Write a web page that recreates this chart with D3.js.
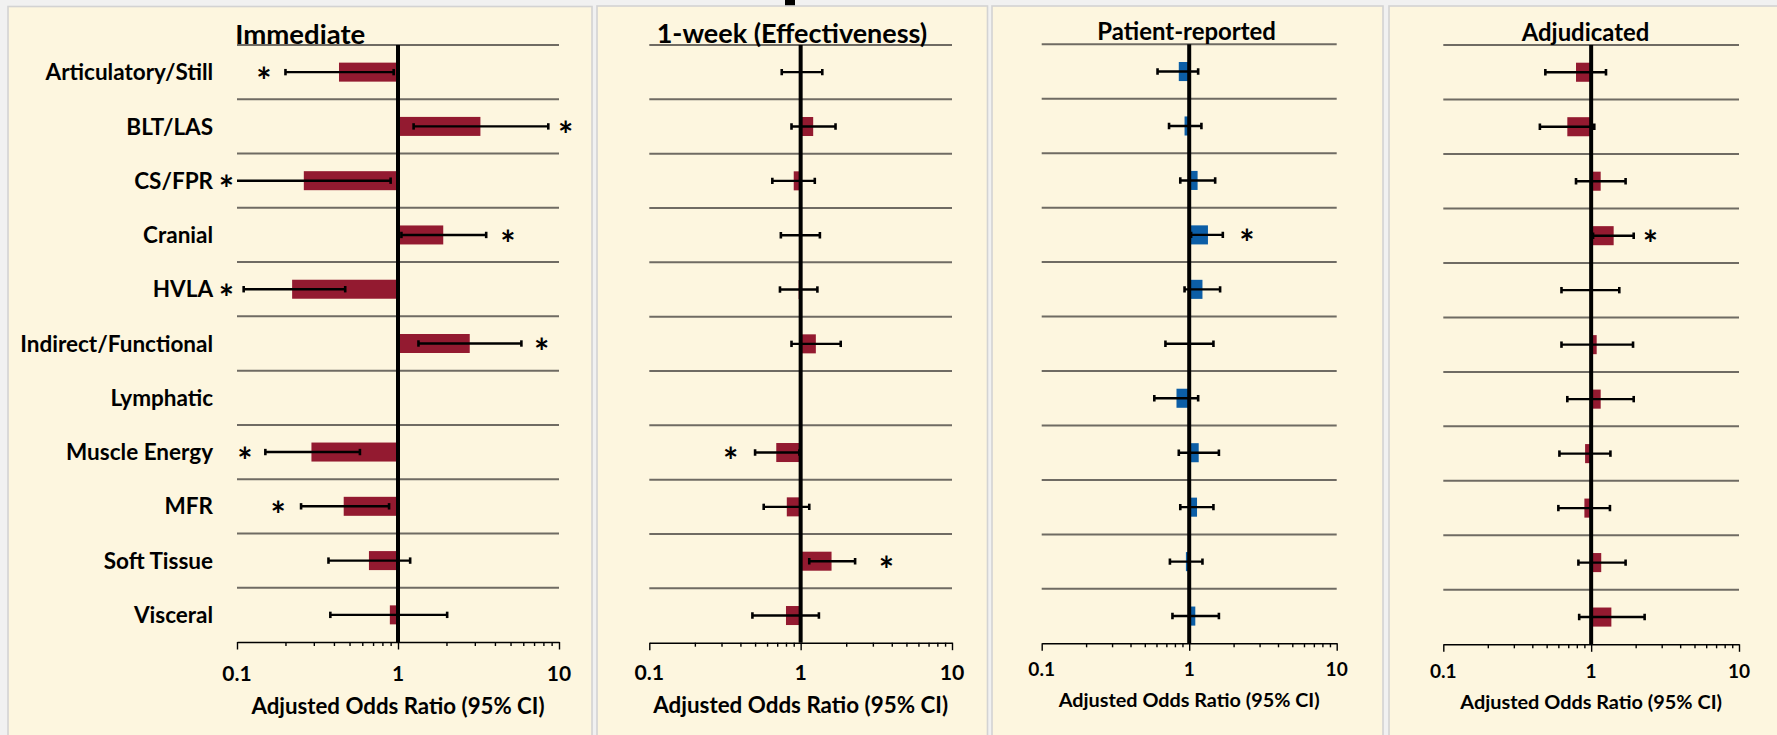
<!DOCTYPE html>
<html>
<head>
<meta charset="utf-8">
<script src="https://cdn.jsdelivr.net/npm/d3@7"></script>
<style>
  html, body { margin: 0; padding: 0; background: #f1f1f1; }
  svg { display: block; }
  text { font-family: Lato, "Open Sans", sans-serif; font-weight: 700; fill: #000; }
</style>
</head>
<body>
<svg id="chart" width="1777" height="735"></svg>
<script>
// ---- Data ---------------------------------------------------------------
const categories = [
  "Articulatory/Still", "BLT/LAS", "CS/FPR", "Cranial", "HVLA",
  "Indirect/Functional", "Lymphatic", "Muscle Energy", "MFR",
  "Soft Tissue", "Visceral"
];

// Immediate outcome: adjusted odds ratio with 95% CI (null = not estimated)
const immediateOR = [0.43, 3.25, 0.26, 1.91, 0.22, 2.79, null, 0.29, 0.46, 0.66, 0.89];
const immediateLo = [0.20, 1.25, 0.08, 1.05, 0.11, 1.34, null, 0.15, 0.25, 0.37, 0.38];
const immediateHi = [0.94, 8.58, 0.90, 3.53, 0.47, 5.84, null, 0.58, 0.88, 1.19, 2.02];
const immediateSig = [0.147, 11.0, 0.086, 4.82, 0.086, 7.79, null, 0.112, 0.18, null, null];

// 1-week effectiveness
const weekOR = [1.02, 1.21, 0.90, 1.00, 0.97, 1.26, null, 0.69, 0.81, 1.60, 0.80];
const weekLo = [0.75, 0.87, 0.65, 0.74, 0.73, 0.87, null, 0.50, 0.57, 1.14, 0.48];
const weekHi = [1.39, 1.70, 1.24, 1.34, 1.29, 1.84, null, 0.98, 1.14, 2.29, 1.32];
const weekSig = [null, null, null, null, null, null, null, 0.345, null, 3.68, null];

// Patient-reported adverse events
const patientOR = [0.85, 0.93, 1.14, 1.34, 1.23, 1.00, 0.82, 1.16, 1.13, 0.95, 1.10];
const patientLo = [0.61, 0.73, 0.87, 1.03, 0.93, 0.69, 0.58, 0.85, 0.87, 0.74, 0.77];
const patientHi = [1.15, 1.21, 1.50, 1.69, 1.62, 1.46, 1.15, 1.59, 1.46, 1.23, 1.59];
const patientSig = [null, null, null, 2.46, null, null, null, null, null, null, null];

// Adjudicated adverse events
const adjudicatedOR = [0.79, 0.69, 1.16, 1.42, 0.99, 1.09, 1.16, 0.91, 0.90, 1.17, 1.37];
const adjudicatedLo = [0.49, 0.45, 0.79, 1.03, 0.63, 0.63, 0.69, 0.61, 0.60, 0.82, 0.83];
const adjudicatedHi = [1.26, 1.05, 1.71, 1.94, 1.55, 1.92, 1.94, 1.35, 1.34, 1.71, 2.30];
const adjudicatedSig = [null, null, null, 2.52, null, null, null, null, null, null, null];

const panelTitles = ["Immediate", "1-week (Effectiveness)", "Patient-reported", "Adjudicated"];
const tickValues = [0.1, 1, 10];
const tickLabels = ["0.1", "1", "10"];
const axisTitle = "Adjusted Odds Ratio (95% CI)";

// ---- Styling / layout ---------------------------------------------------
const RED = "#931a30";
const BLUE = "#0c5ea6";
const PANEL_FILL = "#fdf6df";
const PANEL_STROKE = "#d3d3d3";
const GRID = "#6f6b63";

const panels = [
  { title: panelTitles[0], or: immediateOR, lo: immediateLo, hi: immediateHi, sig: immediateSig,
    color: RED, labels: true,
    frame: [8, 6.5, 592, 740], x0: 237, x1: 559, y0: 45, y1: 642,
    titleX: 235.3, titleW: 130.1, titleBase: 43.5,
    tickBase: 681, tickW: 29.3, axisBase: 714.3, axisW: 293.4 },
  { title: panelTitles[1], or: weekOR, lo: weekLo, hi: weekHi, sig: weekSig,
    color: RED, labels: false,
    frame: [597, 6, 987.5, 740], x0: 649.3, x1: 952, y0: 45, y1: 642.7,
    titleX: 656.7, titleW: 270.7, titleBase: 42.7,
    tickBase: 680, tickW: 29.7, axisBase: 712.7, axisW: 295 },
  { title: panelTitles[2], or: patientOR, lo: patientLo, hi: patientHi, sig: patientSig,
    color: BLUE, labels: false,
    frame: [992, 6, 1383, 740], x0: 1041.7, x1: 1336.7, y0: 44.3, y1: 643.3,
    titleX: 1097.3, titleW: 178.7, titleBase: 40,
    tickBase: 676, tickW: 26.7, axisBase: 706.7, axisW: 261 },
  { title: panelTitles[3], or: adjudicatedOR, lo: adjudicatedLo, hi: adjudicatedHi, sig: adjudicatedSig,
    color: RED, labels: false,
    frame: [1389, 6, 1790, 740], x0: 1443.3, x1: 1739, y0: 45, y1: 644.3,
    titleX: 1521.7, titleW: 127.6, titleBase: 40.7,
    tickBase: 678.3, tickW: 26.7, axisBase: 709.3, axisW: 262 }
];

const svg = d3.select("#chart");

// scale a text selection's font size so that its first node spans `width`
function fitWidth(sel, width) {
  const w = sel.node().getComputedTextLength();
  const fs = parseFloat(sel.attr("font-size"));
  const nfs = fs * width / w;
  sel.attr("font-size", nfs);
  return nfs;
}

const isMajor = d => tickValues.some(t => Math.abs(Math.log10(d) - Math.log10(t)) < 1e-6);

// small dark mark peeking in at the top edge
svg.append("rect").attr("x", 785).attr("y", 0).attr("width", 10).attr("height", 6).attr("fill", "#000");

panels.forEach((p, pi) => {
  const g = svg.append("g").attr("class", "panel");
  const x = d3.scaleLog().domain([0.1, 10]).range([p.x0, p.x1]);
  const y = d3.scaleBand().domain(categories).range([p.y0, p.y1]);
  const bw = y.bandwidth();
  const barH = bw * 0.35;
  const cy = c => y(c) + bw / 2;

  const [fx0, fy0, fx1, fy1] = p.frame;
  g.append("rect")
    .attr("x", fx0).attr("y", fy0).attr("width", fx1 - fx0).attr("height", fy1 - fy0)
    .attr("fill", PANEL_FILL).attr("stroke", PANEL_STROKE).attr("stroke-width", 1.6);

  // row separators
  g.selectAll("line.grid").data(categories).join("line")
    .attr("class", "grid")
    .attr("x1", p.x0).attr("x2", p.x1)
    .attr("y1", d => y(d)).attr("y2", d => y(d))
    .attr("stroke", GRID).attr("stroke-width", 2);

  const rows = categories.map((c, i) => ({ c, or: p.or[i], lo: p.lo[i], hi: p.hi[i], sig: p.sig[i] }));

  // bars from OR = 1 to the point estimate
  g.selectAll("rect.bar").data(rows.filter(r => r.or != null)).join("rect")
    .attr("class", "bar")
    .attr("x", r => Math.min(x(1), x(r.or)))
    .attr("width", r => Math.abs(x(r.or) - x(1)))
    .attr("y", r => cy(r.c) - barH / 2)
    .attr("height", barH)
    .attr("fill", p.color);

  // 95% CI whiskers, clipped to the plotting range
  const clipId = "clip" + pi;
  svg.append("clipPath").attr("id", clipId)
    .append("rect").attr("x", p.x0).attr("y", p.y0 - 5).attr("width", p.x1 - p.x0).attr("height", p.y1 - p.y0 + 10);
  const eg = g.append("g").attr("clip-path", `url(#${clipId})`);
  const ciRows = rows.filter(r => r.lo != null);
  eg.selectAll("line.ci").data(ciRows).join("line")
    .attr("class", "ci")
    .attr("x1", r => x(r.lo)).attr("x2", r => x(r.hi))
    .attr("y1", r => cy(r.c)).attr("y2", r => cy(r.c))
    .attr("stroke", "#000").attr("stroke-width", 2.4);
  const caps = ciRows.flatMap(r => [{ c: r.c, v: r.lo }, { c: r.c, v: r.hi }]);
  eg.selectAll("line.cap").data(caps).join("line")
    .attr("class", "cap")
    .attr("x1", d => x(d.v)).attr("x2", d => x(d.v))
    .attr("y1", d => cy(d.c) - 3.2).attr("y2", d => cy(d.c) + 3.2)
    .attr("stroke", "#000").attr("stroke-width", 2.6);

  // line of no effect
  g.append("line")
    .attr("x1", x(1)).attr("x2", x(1)).attr("y1", p.y0).attr("y2", p.y1)
    .attr("stroke", "#000").attr("stroke-width", 4);

  // log axis with minor ticks
  const axis = d3.axisBottom(x).tickValues(x.ticks()).tickSizeOuter(0).tickSizeInner(4).tickFormat(() => "");
  const ag = g.append("g").attr("transform", `translate(0,${p.y1})`).call(axis);
  ag.select(".domain").attr("stroke", "#000").attr("stroke-width", 1.6);
  ag.selectAll(".tick text").remove();
  ag.selectAll(".tick line").attr("stroke", "#000").attr("stroke-width", 1.4)
    .filter(d => isMajor(d)).attr("y2", 7.5);

  const tl = g.selectAll("text.ticklab").data(tickValues).join("text")
    .attr("class", "ticklab")
    .attr("x", d => x(d)).attr("y", p.tickBase)
    .attr("text-anchor", "middle")
    .attr("font-size", 20)
    .text((d, i) => tickLabels[i]);
  const tfs = fitWidth(tl.filter((d, i) => i === 0), p.tickW);
  tl.attr("font-size", tfs);

  // axis title
  const at = g.append("text")
    .attr("x", x(1)).attr("y", p.axisBase)
    .attr("text-anchor", "middle").attr("font-size", 20)
    .text(axisTitle);
  fitWidth(at, p.axisW);

  // panel title
  const tt = g.append("text")
    .attr("x", p.titleX).attr("y", p.titleBase)
    .attr("font-size", 24)
    .text(p.title);
  fitWidth(tt, p.titleW);

  // significance markers
  const sfs = 36;
  g.selectAll("text.sig").data(rows.filter(r => r.sig != null)).join("text")
    .attr("class", "sig")
    .attr("x", r => x(r.sig))
    .attr("y", r => cy(r.c) + sfs * 0.6)
    .attr("text-anchor", "middle")
    .attr("font-size", sfs)
    .text("*");

  // category labels
  if (p.labels) {
    const lab = g.selectAll("text.cat").data(categories).join("text")
      .attr("class", "cat")
      .attr("x", 213.1)
      .attr("text-anchor", "end")
      .attr("font-size", 20)
      .text(d => d);
    const lfs = fitWidth(lab.filter(d => d === "Indirect/Functional"), 193);
    lab.attr("font-size", lfs).attr("y", d => cy(d) + lfs * 0.36);
  }
});
</script>
</body>
</html>
